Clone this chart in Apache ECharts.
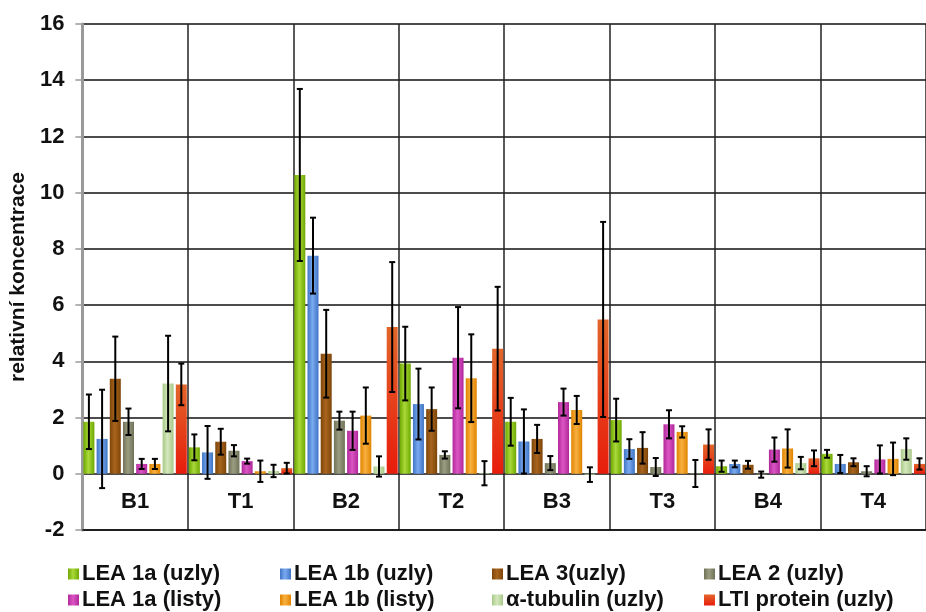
<!DOCTYPE html>
<html>
<head>
<meta charset="utf-8">
<script src="https://cdn.jsdelivr.net/npm/echarts@6/dist/echarts.min.js"></script>
<style>
html,body{margin:0;padding:0;background:#fff;}
#chart{width:926px;height:612px;}
</style>
</head>
<body>
<div id="chart"></div>
<script>
const categories = ['B1', 'T1', 'B2', 'T2', 'B3', 'T3', 'B4', 'T4'];
const seriesNames = ['LEA 1a (uzly)', 'LEA 1b (uzly)', 'LEA 3(uzly)', 'LEA 2 (uzly)', 'LEA 1a (listy)', 'LEA 1b (listy)', 'α-tubulin (uzly)', 'LTI protein (uzly)'];
const yTicks = [-2, 0, 2, 4, 6, 8, 10, 12, 14, 16];

const lea1aUzly = [1.85, 0.94, 10.63, 3.92, 1.85, 1.91, 0.27, 0.71];
const lea1aUzlyErr = [0.97, 0.46, 3.06, 1.31, 0.85, 0.76, 0.20, 0.14];
const lea1bUzly = [1.24, 0.76, 7.76, 2.48, 1.15, 0.88, 0.35, 0.35];
const lea1bUzlyErr = [1.75, 0.94, 1.35, 1.26, 1.14, 0.35, 0.12, 0.32];
const lea3Uzly = [3.38, 1.14, 4.27, 2.30, 1.24, 0.92, 0.32, 0.41];
const lea3UzlyErr = [1.50, 0.46, 1.56, 0.77, 0.50, 0.56, 0.14, 0.14];
const lea2Uzly = [1.85, 0.82, 1.89, 0.67, 0.38, 0.24, -0.03, 0.09];
const lea2UzlyErr = [0.47, 0.20, 0.32, 0.13, 0.25, 0.32, 0.11, 0.18];
const lea1aListy = [0.35, 0.45, 1.53, 4.13, 2.55, 1.76, 0.86, 0.51];
const lea1aListyErr = [0.18, 0.09, 0.68, 1.80, 0.48, 0.50, 0.43, 0.50];
const lea1bListy = [0.35, 0.09, 2.07, 3.40, 2.27, 1.49, 0.90, 0.53];
const lea1bListyErr = [0.18, 0.38, 1.00, 1.56, 0.50, 0.20, 0.68, 0.58];
const tubulinUzly = [3.21, 0.10, 0.26, 0.02, -0.03, 0.01, 0.38, 0.88];
const tubulinUzlyErr = [1.70, 0.22, 0.36, 0.43, 0.26, 0.48, 0.22, 0.38];
const ltiUzly = [3.18, 0.20, 5.22, 4.45, 5.49, 1.04, 0.55, 0.35];
const ltiUzlyErr = [0.74, 0.19, 2.31, 2.20, 3.47, 0.54, 0.28, 0.20];

const values = [lea1aUzly, lea1bUzly, lea3Uzly, lea2Uzly, lea1aListy, lea1bListy, tubulinUzly, ltiUzly];
const errors = [lea1aUzlyErr, lea1bUzlyErr, lea3UzlyErr, lea2UzlyErr, lea1aListyErr, lea1bListyErr, tubulinUzlyErr, ltiUzlyErr];

function hGrad(edge, mid) {
  return new echarts.graphic.LinearGradient(0, 0, 1, 0, [
    {offset: 0, color: edge}, {offset: 0.45, color: mid}, {offset: 1, color: edge}
  ]);
}
const colors = [
  hGrad('#6fa800', '#a9d93a'),
  hGrad('#3f74c4', '#7aaaf0'),
  hGrad('#7e4508', '#a8651e'),
  hGrad('#6f7258', '#9a9d80'),
  hGrad('#b0289a', '#dc55c4'),
  hGrad('#e08400', '#f8b040'),
  hGrad('#a8c888', '#d4e8bc'),
  new echarts.graphic.LinearGradient(0, 0, 0, 1, [
    {offset: 0, color: '#e2662a'}, {offset: 1, color: '#e81c0c'}
  ])
];

const BAR_W = 11, GAP = 0.2;
const pitch = BAR_W * (1 + GAP);
const FONT = 'Liberation Sans, Arial, sans-serif';

const series = [];
seriesNames.forEach((name, i) => {
  series.push({
    name: name,
    type: 'bar',
    data: values[i],
    barWidth: BAR_W,
    barGap: (GAP * 100) + '%',
    itemStyle: {color: colors[i]},
    z: 2
  });
});
seriesNames.forEach((name, i) => {
  series.push({
    name: name + ' err',
    type: 'custom',
    z: 5,
    data: values[i].map((v, k) => [k, v - errors[i][k], v + errors[i][k]]),
    renderItem: function (params, api) {
      const lo = api.coord([api.value(0), api.value(1)]);
      const hi = api.coord([api.value(0), api.value(2)]);
      const x = lo[0] + (i - 3.5) * pitch;
      const cap = 3;
      const st = {stroke: '#000', lineWidth: 2};
      return {
        type: 'group',
        children: [
          {type: 'line', shape: {x1: x, y1: lo[1], x2: x, y2: hi[1]}, style: st},
          {type: 'line', shape: {x1: x - cap, y1: lo[1], x2: x + cap, y2: lo[1]}, style: st},
          {type: 'line', shape: {x1: x - cap, y1: hi[1], x2: x + cap, y2: hi[1]}, style: st}
        ]
      };
    },
    silent: true
  });
});

const chart = echarts.init(document.getElementById('chart'), null, {renderer: 'canvas'});
chart.setOption({
  animation: false,
  backgroundColor: '#fff',
  grid: {left: 81, top: 24, width: 850, bottom: 82},
  legend: {
    data: seriesNames,
    left: 63, top: 556, width: 900,
    orient: 'horizontal',
    itemWidth: 11, itemHeight: 11, itemGap: 0,
    icon: 'rect',
    textStyle: {
      fontFamily: FONT, fontWeight: 'bold',
      fontSize: 22, color: '#111', width: 198, lineHeight: 26, padding: [0, 0, 0, -2]
    }
  },
  xAxis: {
    type: 'category',
    data: categories,
    axisLine: {onZero: false, lineStyle: {color: '#111', width: 1.5}},
    axisTick: {show: false},
    axisLabel: {
      fontFamily: FONT, fontWeight: 'bold',
      fontSize: 22, color: '#111', margin: -39
    },
    splitLine: {show: true, lineStyle: {color: '#222', width: 1.5}}
  },
  yAxis: {
    type: 'value',
    min: -2, max: 16, interval: 2,
    name: 'relativní koncentrace',
    nameLocation: 'middle',
    nameRotate: 90,
    nameGap: 52,
    nameTextStyle: {
      fontFamily: FONT, fontWeight: 'bold',
      fontSize: 21, color: '#111'
    },
    axisLine: {show: true, lineStyle: {color: '#9a9a9a', width: 3}},
    axisTick: {show: true, length: 7, lineStyle: {color: '#9a9a9a', width: 1.5}},
    axisLabel: {
      fontFamily: FONT, fontWeight: 'bold',
      fontSize: 22, color: '#111', margin: 18,
      formatter: v => yTicks.indexOf(v) >= 0 ? String(v) : ''
    },
    splitLine: {show: true, lineStyle: {color: '#111', width: 1.5}}
  },
  series: series
});
</script>
</body>
</html>
